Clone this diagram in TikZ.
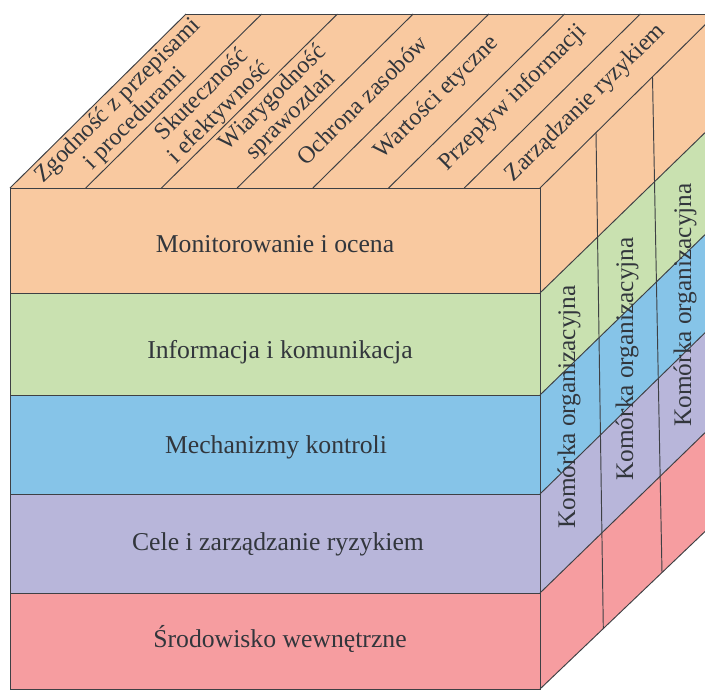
\documentclass[tikz,border=0pt]{standalone}
\usepackage{fontspec}
\setmainfont{Liberation Serif}
\definecolor{cOr}{RGB}{249,201,160}
\definecolor{cGr}{RGB}{201,225,176}
\definecolor{cBl}{RGB}{134,196,232}
\definecolor{cLa}{RGB}{184,182,218}
\definecolor{cRe}{RGB}{246,157,160}
\definecolor{cLine}{RGB}{62,64,68}
\definecolor{cTxt}{RGB}{50,54,60}
\tikzset{
  edge/.style={draw=cLine,line width=0.95pt},
  fronttxt/.style={text=cTxt,font=\fontsize{25.7}{28}\selectfont,anchor=base,inner sep=0pt},
  toptxt/.style={text=cTxt,font=\fontsize{24}{25}\selectfont,align=center,rotate=44.67,inner sep=0pt},
  sidetxt/.style={text=cTxt,font=\fontsize{25.3}{28}\selectfont,rotate=90,inner sep=0pt}
}
\begin{document}
\begin{tikzpicture}[x=1pt,y=-1pt]
\useasboundingbox (0,0) rectangle (705,689);
\clip (0,0) rectangle (705,689);
% top face
\fill[cOr] (10,188) -- (186,14) -- (716,14) -- (540,188) -- cycle;
% front layers
\fill[cOr] (10,188) rectangle (540,293);
\fill[cGr] (10,293) rectangle (540,395);
\fill[cBl] (10,395) rectangle (540,494);
\fill[cLa] (10,494) rectangle (540,593);
\fill[cRe] (10,593) rectangle (540,689);
% right face layers
\fill[cOr] (540,188) -- (716,14) -- (716,122) -- (540,293) -- cycle;
\fill[cGr] (540,293) -- (716,122) -- (716,224) -- (540,395) -- cycle;
\fill[cBl] (540,395) -- (716,224) -- (716,322) -- (540,494) -- cycle;
\fill[cLa] (540,494) -- (716,322) -- (716,422) -- (540,593) -- cycle;
\fill[cRe] (540,593) -- (716,422) -- (716,521) -- (540,689) -- cycle;
% top face lines
\foreach \i in {0,...,7}{
  \draw[edge] ({10+75.714*\i},188) -- ({186+75.714*\i},14);
}
\draw[edge] (186,14) -- (716,14);
% front outline and layer borders
\draw[edge] (10,188) rectangle (540,689);
\foreach \y in {293,395,494,593}{\draw[edge] (10,\y) -- (540,\y);}
% right face lines
\draw[edge] (540,293) -- (716,122);
\draw[edge] (540,395) -- (716,224);
\draw[edge] (540,494) -- (716,322);
\draw[edge] (540,593) -- (716,422);
\draw[edge] (540,689) -- (716,521);
\draw[edge] (596,132.6) -- (603.3,628);
\draw[edge] (652.5,77) -- (662,572.5);
% front texts
\node[fronttxt] (l1) at (275,252) {Monitorowanie i ocena};
\node[fronttxt] (l2) at (280,358) {Informacja i komunikacja};
\node[fronttxt] (l3) at (276,453) {Mechanizmy kontroli};
\node[fronttxt] (l4) at (278,550) {Cele i zarządzanie ryzykiem};
\node[fronttxt] (l5) at (280,647) {Środowisko wewnętrzne};
% top texts
\node[toptxt] (t0) at (127,110) {Zgodność z przepisami\\i procedurami};
\node[toptxt] (t1) at (211,104) {Skuteczność\\i efektywność};
\node[toptxt] (t2) at (282,107) {Wiarygodność\\sprawozdań};
\node[toptxt] (t3) at (362,100) {Ochrona zasobów};
\node[toptxt] (t4) at (437,98) {Wartości etyczne};
\node[toptxt] (t5) at (513,98) {Przepływ informacji};
\node[toptxt] (t6) at (586,103) {Zarządzanie ryzykiem};
% side texts
\node[sidetxt] (s1) at (569,407) {Komórka organizacyjna};
\node[sidetxt] (s2) at (627,359) {Komórka organizacyjna};
\node[sidetxt] (s3) at (685,305) {Komórka organizacyjna};
\end{tikzpicture}
\end{document}
